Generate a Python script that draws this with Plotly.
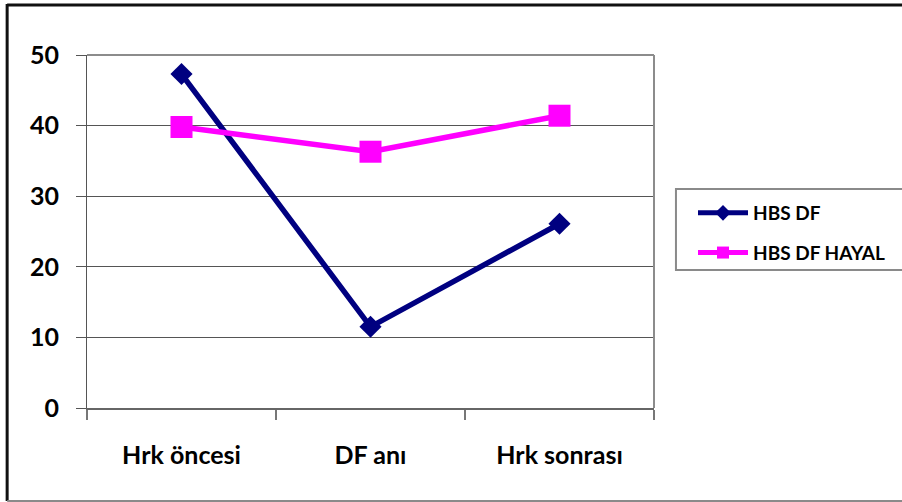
import plotly.graph_objects as go

# Categories and series values
categories = ["Hrk öncesi", "DF anı", "Hrk sonrası"]
hbs_df = [47.3, 11.5, 26.1]
hbs_df_hayal = [39.8, 36.3, 41.4]
y_ticks = [0, 10, 20, 30, 40, 50]

W, H = 902, 502
L, R, T, B = 87, 655, 55, 408  # plot-area edges in pixels


def fx(p):
    return (p - L) / (R - L)


def fy(p):
    return (B - p) / (B - T)


FONT = dict(family="Lato, 'Open Sans', sans-serif", color="black", weight="bold")

fig = go.Figure()
fig.add_trace(go.Scatter(
    x=categories, y=hbs_df, name="HBS DF", mode="lines+markers",
    line=dict(color="#000080", width=5.5),
    marker=dict(symbol="diamond", size=17, color="#000080"),
    legendgroup="a",
))
fig.add_trace(go.Scatter(
    x=categories, y=hbs_df_hayal, name="HBS DF HAYAL", mode="lines+markers",
    line=dict(color="#FF00FF", width=5.5),
    marker=dict(symbol="square", size=22, color="#FF00FF"),
    legendgroup="b",
))

shapes = [
    # outer chart border
    dict(type="line", xref="paper", yref="paper", x0=fx(7), x1=fx(915), y0=fy(5), y1=fy(5),
         line=dict(color="#111111", width=3)),
    dict(type="line", xref="paper", yref="paper", x0=fx(7), x1=fx(7), y0=fy(4), y1=fy(501),
         line=dict(color="#111111", width=3)),
    dict(type="line", xref="paper", yref="paper", x0=fx(7), x1=fx(915), y0=fy(501), y1=fy(501),
         line=dict(color="#8a8a8a", width=2)),
    # plot-area top and right edges
    dict(type="line", xref="paper", yref="paper", x0=0, x1=1, y0=1, y1=1,
         line=dict(color="#8c8c8c", width=2)),
    dict(type="line", xref="paper", yref="paper", x0=1, x1=1, y0=0, y1=1,
         line=dict(color="#8c8c8c", width=2)),
    # legend frame
    dict(type="rect", xref="paper", yref="paper", x0=fx(677), x1=fx(915), y0=fy(270), y1=fy(189),
         line=dict(color="#8a8a8a", width=2), fillcolor="rgba(0,0,0,0)"),
]

fig.update_layout(
    width=W, height=H,
    margin=dict(l=L, r=W - R, t=T, b=H - B, pad=0),
    paper_bgcolor="white", plot_bgcolor="white",
    showlegend=True,
    legend=dict(
        x=fx(693), y=fy(194), xanchor="left", yanchor="top",
        font=dict(size=19, **FONT), bgcolor="rgba(0,0,0,0)",
        borderwidth=0, itemwidth=50, itemsizing="constant",
        traceorder="grouped", tracegroupgap=12,
    ),
    shapes=shapes,
    xaxis=dict(
        type="category", range=[-0.5, 2.5], tickson="boundaries",
        ticks="outside", ticklen=10, tickcolor="#777777", tickwidth=2,
        showline=True, linecolor="#666666", linewidth=2, showgrid=False,
        tickfont=dict(size=25, **FONT), ticklabelstandoff=24,
        zeroline=False, fixedrange=True,
    ),
    yaxis=dict(
        range=[0, 50], tickvals=y_ticks, ticktext=[str(v) for v in y_ticks],
        ticks="outside", ticklen=10, tickcolor="#555555", tickwidth=1,
        showline=True, linecolor="#555555", linewidth=1,
        showgrid=True, gridcolor="#555555", gridwidth=1, zeroline=False,
        tickfont=dict(size=25, **FONT), ticklabelstandoff=12, fixedrange=True,
    ),
)

fig.write_html("out.html")
